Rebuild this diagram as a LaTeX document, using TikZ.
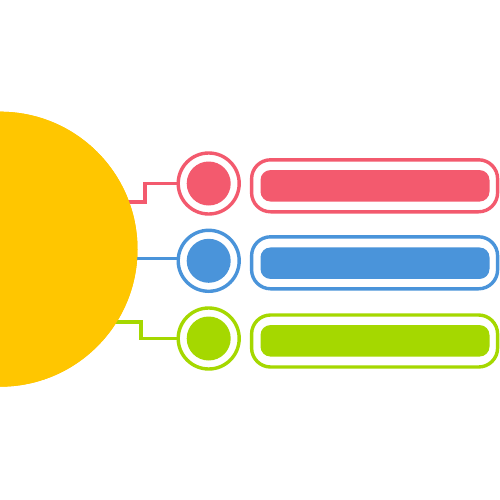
\documentclass[tikz,border=0pt]{standalone}
\usetikzlibrary{calc}
\definecolor{cred}{HTML}{F35A6E}
\definecolor{cblue}{HTML}{4A94DA}
\definecolor{cgreen}{HTML}{A5D800}
\definecolor{cyellow}{HTML}{FFC600}
\tikzset{
  ring/.style={circle, draw=#1, line width=3.4pt, fill=white, minimum size=61pt, inner sep=0pt, outer sep=0pt},
  dot/.style={circle, fill=#1, minimum size=44pt, inner sep=0pt, outer sep=0pt},
  bar/.style={rectangle, rounded corners=19pt, draw=#1, line width=3.4pt, fill=white, minimum width=246pt, minimum height=52pt, inner sep=0pt, outer sep=0pt},
  barfill/.style={rectangle, rounded corners=10pt, fill=#1, minimum width=229pt, minimum height=31.5pt, inner sep=0pt, outer sep=0pt},
  link/.style={draw=#1, line width=3.4pt}
}
\begin{document}
\begin{tikzpicture}[x=1pt,y=-1pt]
\useasboundingbox (0,0) rectangle (500,500);
\fill[white] (0,0) rectangle (500,500);
\clip (0,0) rectangle (500,500);
% hub
\node[circle, fill=cyellow, minimum size=275pt, inner sep=0pt, outer sep=0pt] (Y) at (0,249.2) {};
% rings and dots
\node[ring=cred] (R) at (208.7,183.5) {};
\node[dot=cred] (Rd) at (R) {};
\node[ring=cblue] (B) at (208.7,260.8) {};
\node[dot=cblue] (Bd) at (B) {};
\node[ring=cgreen] (G) at (208.7,338.5) {};
\node[dot=cgreen] (Gd) at (G) {};
% bars
\node[bar=cred] (RB) at (374.6,185.8) {};
\node[barfill=cred] (RBf) at (375,185.8) {};
\node[bar=cblue] (BB) at (374.6,262.8) {};
\node[barfill=cblue] (BBf) at (375,263.2) {};
\node[bar=cgreen] (GB) at (374.6,341) {};
\node[barfill=cgreen] (GBf) at (375,340.8) {};
% connectors
\coordinate (rs) at (145,0);
\coordinate (gs) at (141,0);
\draw[link=cred] ($(Y.20)+(-3,0)$) -- ($(Y.20 -| rs)$) -- (rs |- R) -- (R.west);
\draw[link=cblue] ($(Y.-4.5)+(-3,0)$) -- (Y.-4.5 -| B.west) -- (B.west);
\draw[link=cgreen] ($(Y.-32.6)+(-3,0)$) -- ($(Y.-32.6 -| gs)$) -- (gs |- G) -- (G.west);
% redraw hub on top of connector starts
\fill[cyellow] (Y.center) circle (137.5);
\end{tikzpicture}
\end{document}
